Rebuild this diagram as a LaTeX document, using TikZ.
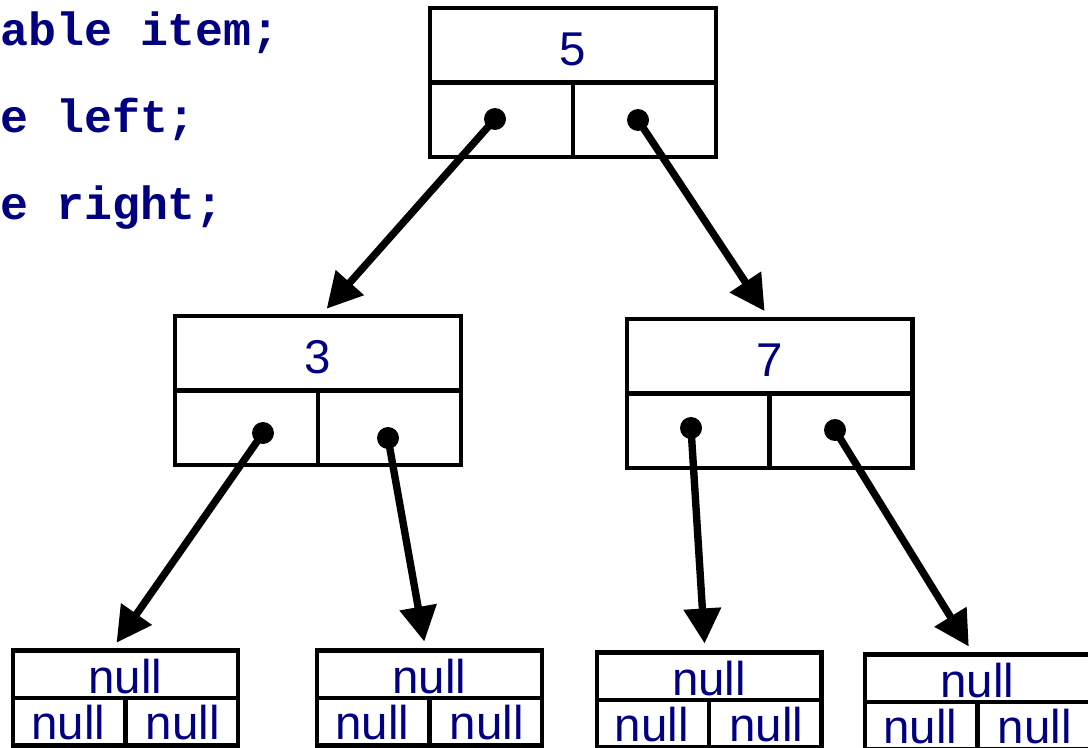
\documentclass[tikz,border=0pt]{standalone}
\usepackage{fontspec}
\setmainfont{Liberation Sans}
\newfontfamily\codefont{Liberation Mono}
\usetikzlibrary{arrows.meta,calc}
\definecolor{navy}{RGB}{0,0,128}

\tikzstyle{record} = [draw, line width=2.3pt, rectangle, inner sep=0pt,
    minimum width=5.72cm, minimum height=2.98cm]
\tikzstyle{leaf} = [draw, line width=2.3pt, rectangle, inner sep=0pt,
    minimum width=4.5cm, minimum height=1.9cm]
\tikzstyle{val} = [text=navy, inner sep=0pt, font=\fontsize{27}{30}\selectfont]
\tikzstyle{code} = [text=navy, inner sep=0pt, anchor=base west,
    font=\codefont\bfseries\fontsize{26.5}{30}\selectfont]
\tikzstyle{dot} = [circle, fill=black, inner sep=0pt, minimum size=0.44cm]
\tikzstyle{pointer} = [line width=4.2pt, shorten >=4pt,
    -{Triangle[length=0.7cm,width=0.72cm]}]

\begin{document}
\begin{tikzpicture}[x=0.02cm, y=-0.02cm]
    \clip (0,0) rectangle (1088,747);
    % clipped code lines
    \node [code] (item) at (0,45) {able item;};
    \node [code] (left) at (0,132) {e left;};
    \node [code] (right) at (0,219) {e right;};
    % nodes with a value and two links
    \foreach \name/\x/\y/\v/\lx/\ly/\rx/\ry in {n5/573/82.5/5/495/119/638/120,
        n3/318/390.5/3/263/433/388/438, n7/769.5/393.5/7/691/428/835/430} {
        \node [record] (\name) at (\x,\y) {};
        \draw [line width=2.3pt] (\name.west) -- (\name.east);
        \draw [line width=2.3pt] (\name.center) -- (\name.south);
        \node [val] at ($(\name.north)!0.5!(\name.center)+(0,5)$) {\v};
        \node [dot] (\name l) at (\lx,\ly) {};
        \node [dot] (\name r) at (\rx,\ry) {};
    }
    % leaves
    \foreach \name/\x/\y in {l1/125.5/698, l2/429.5/698, l3/709/700, l4/977.5/702} {
        \node [leaf] (\name) at (\x,\y) {};
        \draw [line width=2.3pt] (\name.west) -- (\name.east);
        \draw [line width=2.3pt] (\name.center) -- (\name.south);
        \node [val] at ($(\name.north)!0.5!(\name.center)+(0,3)$) {null};
        \node [val] at ($(\name.south west)!0.5!(\name.center)$) {null};
        \node [val] at ($(\name.south east)!0.5!(\name.center)$) {null};
    }
    \draw [pointer] (n5l.center) -- ($(n3.north)+(4,0)$);
    \draw [pointer] (n5r.center) -- ($(n7.north)+(-1,0)$);
    \draw [pointer] (n3l.center) -- ($(l1.north)+(-13,0)$);
    \draw [pointer] (n3r.center) -- ($(l2.north)+(-4,0)$);
    \draw [pointer] (n7l.center) -- ($(l3.north)+(-4,0)$);
    \draw [pointer] (n7r.center) -- ($(l4.north)+(-5,0)$);
\end{tikzpicture}
\end{document}
